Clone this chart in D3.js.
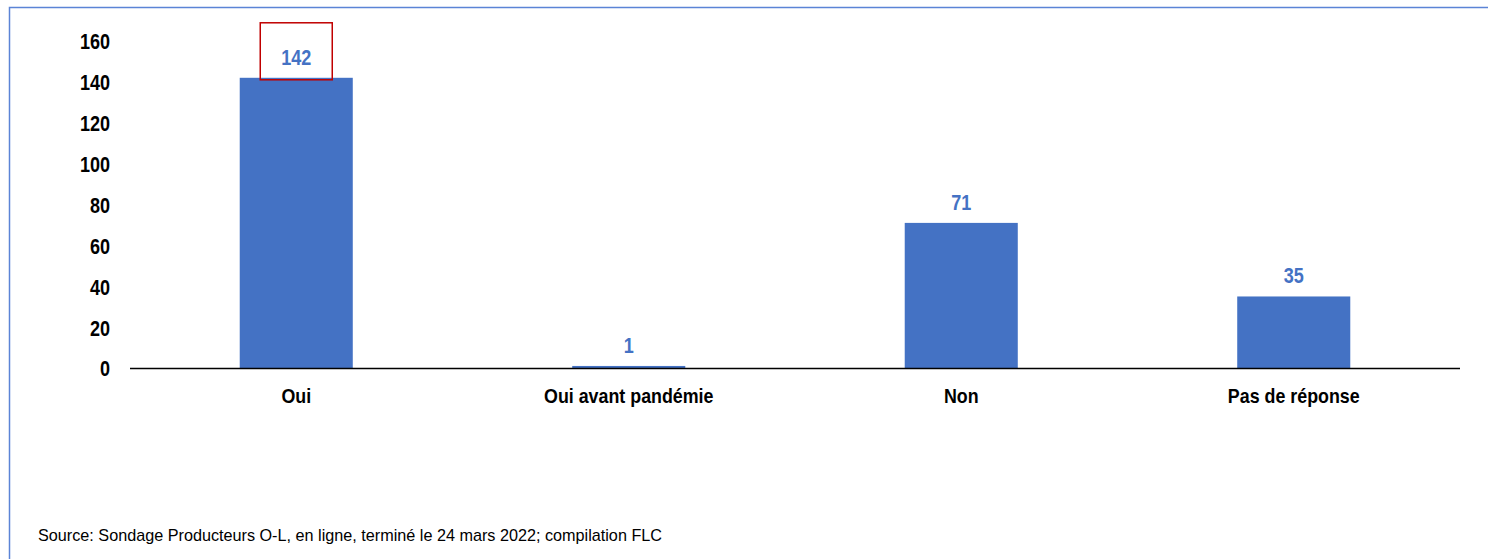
<!DOCTYPE html>
<html>
<head>
<meta charset="utf-8">
<script src="https://cdn.jsdelivr.net/npm/d3@7/dist/d3.min.js"></script>
<style>
  html, body { margin: 0; padding: 0; background: #fff; }
  svg { display: block; }
  text { font-family: "Liberation Sans", Arial, sans-serif; }
</style>
</head>
<body>
<svg id="chart" width="1488" height="559"></svg>
<script>
// Survey responses
const categories = ["Oui", "Oui avant pandémie", "Non", "Pas de réponse"];
const counts = [142, 1, 71, 35];
const yTicks = [0, 20, 40, 60, 80, 100, 120, 140, 160];
const sourceNote = "Source: Sondage Producteurs O-L, en ligne, terminé le 24 mars 2022; compilation FLC";
const highlighted = "Oui";

const svg = d3.select("#chart");
const blue = "#4472C4";
const narrow = 0.82; // horizontal squeeze to get a condensed bold face

// Outer frame
svg.append("rect")
  .attr("x", 9.5).attr("y", 7.5)
  .attr("width", 1488).attr("height", 600)
  .attr("fill", "none")
  .attr("stroke", "#5b84d6")
  .attr("stroke-width", 1.5);

const plot = { left: 130, right: 1460, top: 40, bottom: 368 };

const x = d3.scaleBand()
  .domain(categories)
  .range([plot.left, plot.right])
  .paddingInner(0.66)
  .paddingOuter(0.33);

const y = d3.scaleLinear()
  .domain([0, 160])
  .range([plot.bottom, plot.top + 1]);

// Y axis labels (no axis line)
const yAxis = d3.axisLeft(y).tickValues(yTicks).tickSize(0).tickPadding(0);
const gy = svg.append("g")
  .attr("transform", `translate(110,0)`)
  .call(yAxis);
gy.select(".domain").remove();
gy.selectAll("text")
  .attr("x", 0)
  .attr("dy", "0.36em")
  .attr("transform", `scale(${narrow},1)`)
  .attr("font-size", 22)
  .attr("font-weight", "bold")
  .attr("fill", "#000")
  .attr("font-family", null);

// Bars
svg.append("g").selectAll("rect")
  .data(categories)
  .join("rect")
  .attr("x", d => x(d))
  .attr("width", x.bandwidth())
  .attr("y", (d, i) => y(counts[i]))
  .attr("height", (d, i) => y(0) - y(counts[i]))
  .attr("fill", blue);

// Baseline
svg.append("line")
  .attr("x1", plot.left).attr("x2", plot.right)
  .attr("y1", y(0) + 0.5).attr("y2", y(0) + 0.5)
  .attr("stroke", "#000")
  .attr("stroke-width", 1.5);

// X axis labels
const xAxis = d3.axisBottom(x).tickSize(0).tickPadding(0);
const gx = svg.append("g")
  .attr("transform", `translate(0,${y(0) + 35})`)
  .call(xAxis);
gx.select(".domain").remove();
gx.selectAll("text")
  .attr("y", 0)
  .attr("dy", 0)
  .attr("transform", "scale(0.85,1)")
  .attr("font-size", 21)
  .attr("font-weight", "bold")
  .attr("fill", "#000")
  .attr("font-family", null);

// Value labels
svg.append("g").selectAll("g")
  .data(categories)
  .join("g")
  .attr("transform", (d, i) => `translate(${x(d) + x.bandwidth() / 2},${y(counts[i]) - 13})`)
  .append("text")
  .attr("transform", `scale(${narrow},1)`)
  .attr("text-anchor", "middle")
  .attr("font-size", 22)
  .attr("font-weight", "bold")
  .attr("fill", blue)
  .text((d, i) => counts[i]);

// Highlight box around the top value
const hi = categories.indexOf(highlighted);
const cx = x(highlighted) + x.bandwidth() / 2;
svg.append("rect")
  .attr("x", cx - 36)
  .attr("y", y(counts[hi]) - 55)
  .attr("width", 72)
  .attr("height", 57)
  .attr("fill", "none")
  .attr("stroke", "#c00000")
  .attr("stroke-width", 1.5);

// Source note
svg.append("text")
  .attr("x", 38)
  .attr("y", 541)
  .attr("font-size", 16.2)
  .attr("textLength", 624)
  .attr("lengthAdjust", "spacingAndGlyphs")
  .attr("fill", "#000")
  .text(sourceNote);
</script>
</body>
</html>
